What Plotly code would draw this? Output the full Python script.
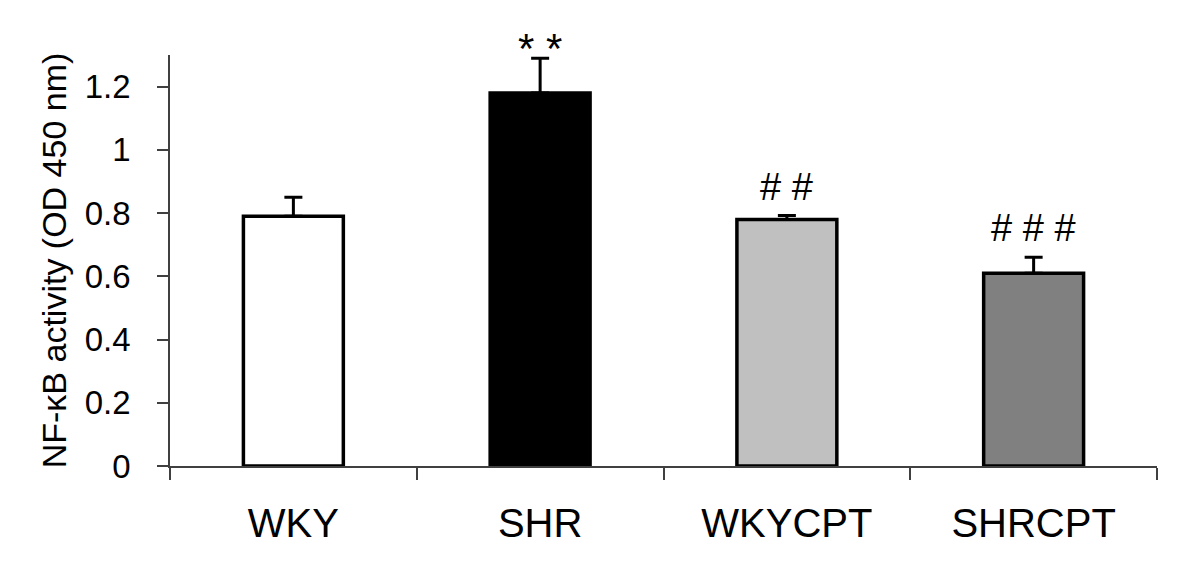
import plotly.graph_objects as go

categories = ["WKY", "SHR", "WKYCPT", "SHRCPT"]
values = [0.79, 1.18, 0.78, 0.61]
errors = [0.06, 0.11, 0.012, 0.05]
colors = ["#FFFFFF", "#000000", "#C0C0C0", "#808080"]
marks = ["", "* *", "# #", "# # #"]
y_ticks = [0, 0.2, 0.4, 0.6, 0.8, 1, 1.2]
y_title = "NF-κB activity (OD 450 nm)"

FONT = "Liberation Sans, Arial, sans-serif"

fig = go.Figure()
fig.add_trace(go.Bar(
    x=categories, y=values,
    marker=dict(color=colors, line=dict(color="black", width=3.5)),
    width=0.405,
    error_y=dict(type="data", symmetric=False, array=errors,
                 arrayminus=[0] * len(values), color="black",
                 thickness=3, width=9),
    cliponaxis=False,
))

for c, v, e, m in zip(categories, values, errors, marks):
    if not m:
        continue
    is_star = "*" in m
    fig.add_annotation(
        x=c, y=v + e, text=m, showarrow=False,
        xanchor="center", yanchor="bottom",
        yshift=-16 if is_star else 6,
        font=dict(family=FONT, size=42 if is_star else 38, color="black"),
    )

fig.update_layout(
    width=1192, height=572,
    margin=dict(l=162, r=43, t=47, b=114),
    paper_bgcolor="white", plot_bgcolor="white",
    showlegend=False,
    bargap=0.595,
    font=dict(family=FONT, color="black"),
)
fig.update_xaxes(
    type="category",
    showline=True, linecolor="#404040", linewidth=1.5,
    ticks="outside", tickson="boundaries", ticklen=12,
    tickcolor="#404040", tickwidth=1.5,
    ticklabelstandoff=21,
    tickfont=dict(family=FONT, size=40, color="black"),
    showgrid=False, zeroline=False,
)
fig.update_yaxes(
    range=[0, 1.3],
    tickvals=y_ticks,
    ticktext=[("%g" % t) for t in y_ticks],
    showline=True, linecolor="#404040", linewidth=1.5,
    ticks="outside", ticklen=11, tickcolor="#404040", tickwidth=1.5,
    ticklabelstandoff=20,
    tickfont=dict(family=FONT, size=33, color="black"),
    title=dict(text=y_title, font=dict(family=FONT, size=34, color="black"),
               standoff=8),
    showgrid=False, zeroline=False,
)

fig.write_html("out.html")
